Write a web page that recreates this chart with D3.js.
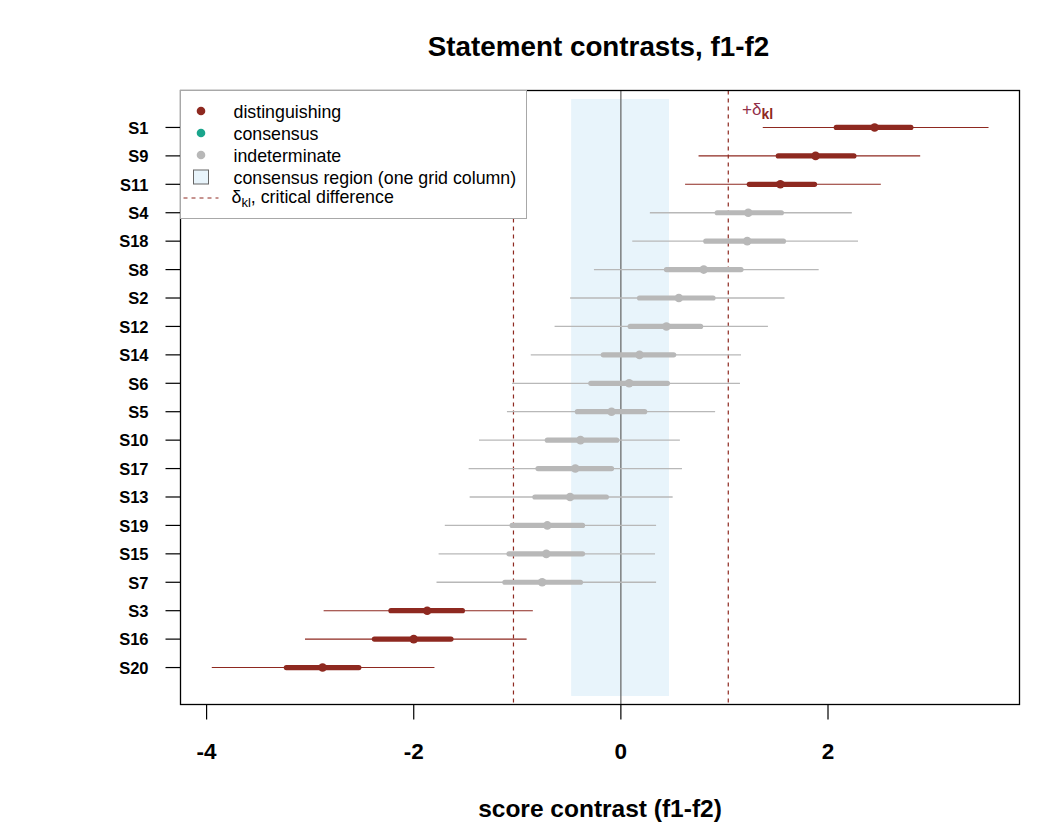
<!DOCTYPE html>
<html><head><meta charset="utf-8">
<script src="https://cdn.jsdelivr.net/npm/d3@7"></script>
<style>body{margin:0;background:#fff;} text{font-family:"Liberation Sans",Arial,sans-serif;}</style>
</head><body>
<svg id="chart" width="1050" height="825"></svg>
<script>
// ---- data ----
const statements = ["S1","S9","S11","S4","S18","S8","S2","S12","S14","S6","S5","S10","S17","S13","S19","S15","S7","S3","S16","S20"];
const estimate = [2.45,1.88,1.54,1.23,1.22,0.80,0.56,0.44,0.18,0.08,-0.09,-0.39,-0.44,-0.49,-0.71,-0.72,-0.76,-1.87,-2.00,-2.88];
const innerLo  = [2.08,1.52,1.24,0.93,0.82,0.44,0.18,0.09,-0.17,-0.29,-0.42,-0.71,-0.80,-0.83,-1.05,-1.08,-1.12,-2.22,-2.38,-3.23];
const innerHi  = [2.80,2.25,1.87,1.55,1.57,1.16,0.89,0.77,0.51,0.45,0.23,-0.04,-0.09,-0.14,-0.37,-0.37,-0.39,-1.53,-1.64,-2.53];
const outerLo  = [1.37,0.75,0.62,0.28,0.11,-0.26,-0.49,-0.64,-0.87,-1.05,-1.10,-1.37,-1.47,-1.46,-1.70,-1.76,-1.78,-2.87,-3.05,-3.95];
const outerHi  = [3.55,2.89,2.51,2.23,2.29,1.91,1.58,1.42,1.16,1.15,0.91,0.57,0.59,0.50,0.34,0.33,0.34,-0.85,-0.91,-1.80];
const status   = ["distinguishing","distinguishing","distinguishing","indeterminate","indeterminate","indeterminate","indeterminate","indeterminate","indeterminate","indeterminate","indeterminate","indeterminate","indeterminate","indeterminate","indeterminate","indeterminate","indeterminate","distinguishing","distinguishing","distinguishing"];
const xTicks = [-4,-2,0,2];
const criticalDiff = 1.037;
const consensusRegion = [-0.48, 0.465];
const legendLabels = ["distinguishing","consensus","indeterminate","consensus region (one grid column)","critical difference"];

// ---- styles ----
const colors = {distinguishing:"#8E2920", consensus:"#1AA58C", indeterminate:"#B8B8B8"};
const regionFill = "#E8F4FB";
const critColor = "#8E2920";

const svg = d3.select("#chart");
const L = 180.5, R = 1019.5, T = 90.5, B = 704.5;

const x = d3.scaleLinear().domain([-4.252, 3.849]).range([L, R]);
const y = d3.scaleLinear().domain([-0.3, 21.3]).range([T, B]);
const rows = statements.map((s,i)=>({s, i:i+1, est:estimate[i], lo1:innerLo[i], hi1:innerHi[i], lo2:outerLo[i], hi2:outerHi[i], st:status[i]}));

// consensus region
svg.append("rect")
  .attr("x", x(consensusRegion[0])).attr("width", x(consensusRegion[1]) - x(consensusRegion[0]))
  .attr("y", y(0)).attr("height", y(21) - y(0))
  .attr("fill", regionFill);

// zero line
svg.append("line").attr("x1", x(0)).attr("x2", x(0)).attr("y1", T).attr("y2", B)
  .attr("stroke", "#6b6b6b").attr("stroke-width", 1.3);

// critical difference lines
[-criticalDiff, criticalDiff].forEach(v=>{
  svg.append("line").attr("x1", x(v)).attr("x2", x(v)).attr("y1", T).attr("y2", B)
    .attr("stroke", critColor).attr("stroke-width", 1.2).attr("stroke-dasharray", "4,4");
});

// intervals
const g = svg.append("g");
g.selectAll(".outer").data(rows).join("line")
  .attr("x1", d=>x(d.lo2)).attr("x2", d=>x(d.hi2)).attr("y1", d=>y(d.i)).attr("y2", d=>y(d.i))
  .attr("stroke", d=>colors[d.st]).attr("stroke-width", d=>d.st==="indeterminate"?1.3:1.1);
g.selectAll(".inner").data(rows).join("line")
  .attr("x1", d=>x(d.lo1)).attr("x2", d=>x(d.hi1)).attr("y1", d=>y(d.i)).attr("y2", d=>y(d.i))
  .attr("stroke", d=>colors[d.st]).attr("stroke-width", 5.2).attr("stroke-linecap", "round");
g.selectAll(".pt").data(rows).join("circle")
  .attr("cx", d=>x(d.est)).attr("cy", d=>y(d.i)).attr("r", 4.3)
  .attr("fill", d=>colors[d.st]);

// frame
svg.append("rect").attr("x", L).attr("y", T).attr("width", R-L).attr("height", B-T)
  .attr("fill", "none").attr("stroke", "#000").attr("stroke-width", 1.3);

// y axis
const yAxis = svg.append("g");
rows.forEach(d=>{
  yAxis.append("line").attr("x1", L-15).attr("x2", L).attr("y1", y(d.i)).attr("y2", y(d.i))
    .attr("stroke", "#000").attr("stroke-width", 1.2);
  yAxis.append("text").attr("x", 148.5).attr("y", y(d.i)+6.3).attr("text-anchor","end")
    .attr("font-size", 16.5).attr("font-weight","bold").text(d.s);
});

// x axis
const xAxis = svg.append("g");
xTicks.forEach(t=>{
  xAxis.append("line").attr("x1", x(t)).attr("x2", x(t)).attr("y1", B).attr("y2", B+15)
    .attr("stroke", "#000").attr("stroke-width", 1.2);
  xAxis.append("text").attr("x", x(t)).attr("y", 759).attr("text-anchor","middle")
    .attr("font-size", 22.5).attr("font-weight","bold").text(t<0 ? "-"+Math.abs(t) : t);
});
svg.append("text").attr("x", (L+R)/2).attr("y", 817).attr("text-anchor","middle")
  .attr("font-size", 24.5).attr("font-weight","bold").text("score contrast (f1-f2)");

// title
svg.append("text").attr("x", 598.5).attr("y", 55.5).attr("text-anchor","middle")
  .attr("font-size", 27.8).attr("font-weight","bold").text("Statement contrasts, f1-f2");

// legend
const lg = svg.append("g");
lg.append("rect").attr("x", 180.5).attr("y", 90.5).attr("width", 346).attr("height", 128)
  .attr("fill", "#fff").attr("stroke", "#a8a8a8").attr("stroke-width", 1);
const ly = [111, 133, 155, 177, 198];
const lfs = 17.8;
["distinguishing","consensus","indeterminate"].forEach((k,i)=>{
  lg.append("circle").attr("cx", 201).attr("cy", ly[i]).attr("r", 4.3).attr("fill", colors[k]);
  lg.append("text").attr("x", 233.5).attr("y", ly[i]+7).attr("font-size", lfs).text(legendLabels[i]);
});
lg.append("rect").attr("x", 193.5).attr("y", 170).attr("width", 15).attr("height", 14)
  .attr("fill", regionFill).attr("stroke", "#666").attr("stroke-width", 1);
lg.append("text").attr("x", 233.5).attr("y", ly[3]+7).attr("font-size", lfs).text(legendLabels[3]);
lg.append("line").attr("x1", 183.5).attr("x2", 218.5).attr("y1", ly[4]).attr("y2", ly[4])
  .attr("stroke", critColor).attr("stroke-width", 1).attr("stroke-dasharray", "4,4");
const lt = lg.append("text").attr("x", 231.5).attr("y", ly[4]+5).attr("font-size", lfs);
lt.append("tspan").text("δ");
lt.append("tspan").attr("dy", 4).attr("font-size", 13).text("kl");
lt.append("tspan").attr("dy", -4).text(", critical difference");

// +delta label
const dl = svg.append("text").attr("x", 742).attr("y", 115).attr("font-size", 17).attr("fill", "#93304a");
dl.append("tspan").text("+δ");
dl.append("tspan").attr("dy", 4).attr("font-size", 14).attr("font-weight","bold").attr("fill","#8E2920").text("kl");
</script>
</body></html>
